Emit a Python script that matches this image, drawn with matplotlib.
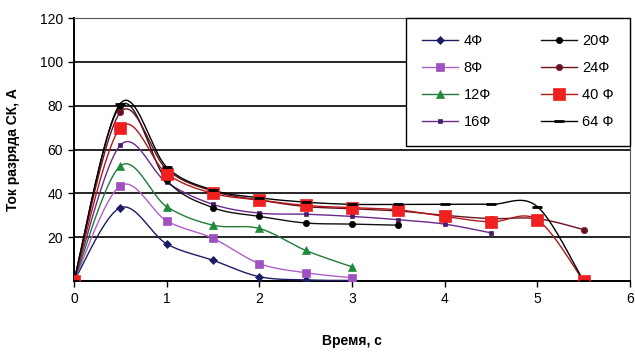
import matplotlib
matplotlib.use("Agg")
import matplotlib.pyplot as plt
import numpy as np

plt.rcParams['font.family'] = ['Liberation Sans', 'DejaVu Sans']

# time points (s)
t_3 = [0, 0.5, 1, 1.5, 2, 2.5, 3]
t_35 = [0, 0.5, 1, 1.5, 2, 2.5, 3, 3.5]
t_45 = [0, 0.5, 1, 1.5, 2, 2.5, 3, 3.5, 4, 4.5]
t_55 = [0, 0.5, 1, 1.5, 2, 2.5, 3, 3.5, 4, 4.5, 5, 5.5]

# discharge current (A)
i_4 = [0, 33.5, 17, 9.5, 2, 0.5, 0.3]
i_8 = [0, 43.5, 27.5, 19.5, 8, 3.8, 1.5]
i_12 = [0, 52.5, 34, 25.5, 24, 14, 6.5]
i_16 = [0, 62, 45, 35, 31, 30.5, 29.5, 28, 26, 22]
i_20 = [0, 80, 46, 33.5, 29.5, 26.5, 26, 25.5]
i_24 = [0, 77, 51, 41, 37, 34, 33, 32, 30, 28.5, 28.5, 23.5]
i_40 = [0, 70, 49, 40, 37, 34.5, 33.5, 32.5, 29.5, 27, 28, 0]
i_64 = [0, 81, 52, 41.5, 38, 36, 35, 35, 35, 35, 34, 0]

labels = ['4Ф', '8Ф', '12Ф', '16Ф', '20Ф', '24Ф', '40 Ф', '64 Ф']


def smooth(x, y, n=24):
    # Excel-like smoothed line (Catmull-Rom through the points)
    p = np.column_stack([x, y]).astype(float)
    p = np.vstack([p[0], p, p[-1]])
    out = []
    for k in range(1, len(p) - 2):
        p0, p1, p2, p3 = p[k - 1], p[k], p[k + 1], p[k + 2]
        c1 = p1 + (p2 - p0) / 6
        c2 = p2 - (p3 - p1) / 6
        s = np.linspace(0, 1, n)[:, None]
        seg = ((1 - s) ** 3) * p1 + 3 * ((1 - s) ** 2) * s * c1 + 3 * (1 - s) * s ** 2 * c2 + s ** 3 * p2
        out.append(seg)
    seg = np.vstack(out)
    return seg[:, 0], seg[:, 1]


fig = plt.figure(figsize=(6.35, 3.54), dpi=100)
ax = fig.add_axes([0.1165, 0.206, 0.8755, 0.743])

# x, y, line colour, marker colour, marker, marker size
series = [
    (t_3, i_4, '#1c1c66', '#1c1c66', 'D', 4.5),
    (t_3, i_8, '#b060c8', '#a050c0', 's', 6),
    (t_3, i_12, '#1f7a3a', '#1f8a3a', '^', 6),
    (t_45, i_16, '#6a2a8a', '#4a1a6a', 's', 3.5),
    (t_35, i_20, '#111111', '#000000', 'o', 4.5),
    (t_55, i_24, '#6b1020', '#6b1020', 'o', 4.5),
    (t_55, i_40, '#b01818', '#ee2020', 's', 9),
    (t_55, i_64, '#000000', '#000000', '_', 7),
]

for (x, y, lc, mc, mk, ms), lab in zip(series, labels):
    mew = 2 if mk == '_' else 0.5
    sx, sy = smooth(x, y)
    ax.plot(sx, sy, color=lc, lw=1.0, zorder=3)
    ax.plot(x, y, linestyle='none', marker=mk, ms=ms, color=mc,
            markeredgewidth=mew, zorder=4)
    # legend proxy
    ax.plot([], [], color=lc, lw=1.0, marker=mk, ms=ms, mfc=mc, mec=mc,
            markeredgewidth=mew, label=lab)

ax.set_xlim(0, 6)
ax.set_ylim(0, 120)
ax.set_xticks(range(0, 7))
ax.set_yticks([20, 40, 60, 80, 100, 120])
ax.yaxis.grid(True, color='black', lw=1.2)
ax.set_axisbelow(True)
for s in ['top', 'right']:
    ax.spines[s].set_color('#555555')
    ax.spines[s].set_linewidth(0.8)
for s in ['left', 'bottom']:
    ax.spines[s].set_color('black')
    ax.spines[s].set_linewidth(1.4)
ax.tick_params(axis='both', labelsize=10, length=4, width=1, colors='black', pad=4)

ax.set_xlabel('Время, с', fontsize=10, fontweight='bold', labelpad=20)
ax.set_ylabel('Ток разряда СК, А', fontsize=10, fontweight='bold', labelpad=14)

leg = ax.legend(ncol=2, loc='upper left', bbox_to_anchor=(0.597, 0.5, 0.403, 0.5),
                mode='expand', fontsize=10.5, frameon=True, fancybox=False,
                edgecolor='black', framealpha=1, handlelength=2.5,
                handletextpad=0.35, columnspacing=2.0, labelspacing=0.9,
                borderpad=1.1, borderaxespad=0)
leg.get_frame().set_linewidth(1.0)
leg.set_zorder(10)

fig.savefig('out.png', dpi=100)
